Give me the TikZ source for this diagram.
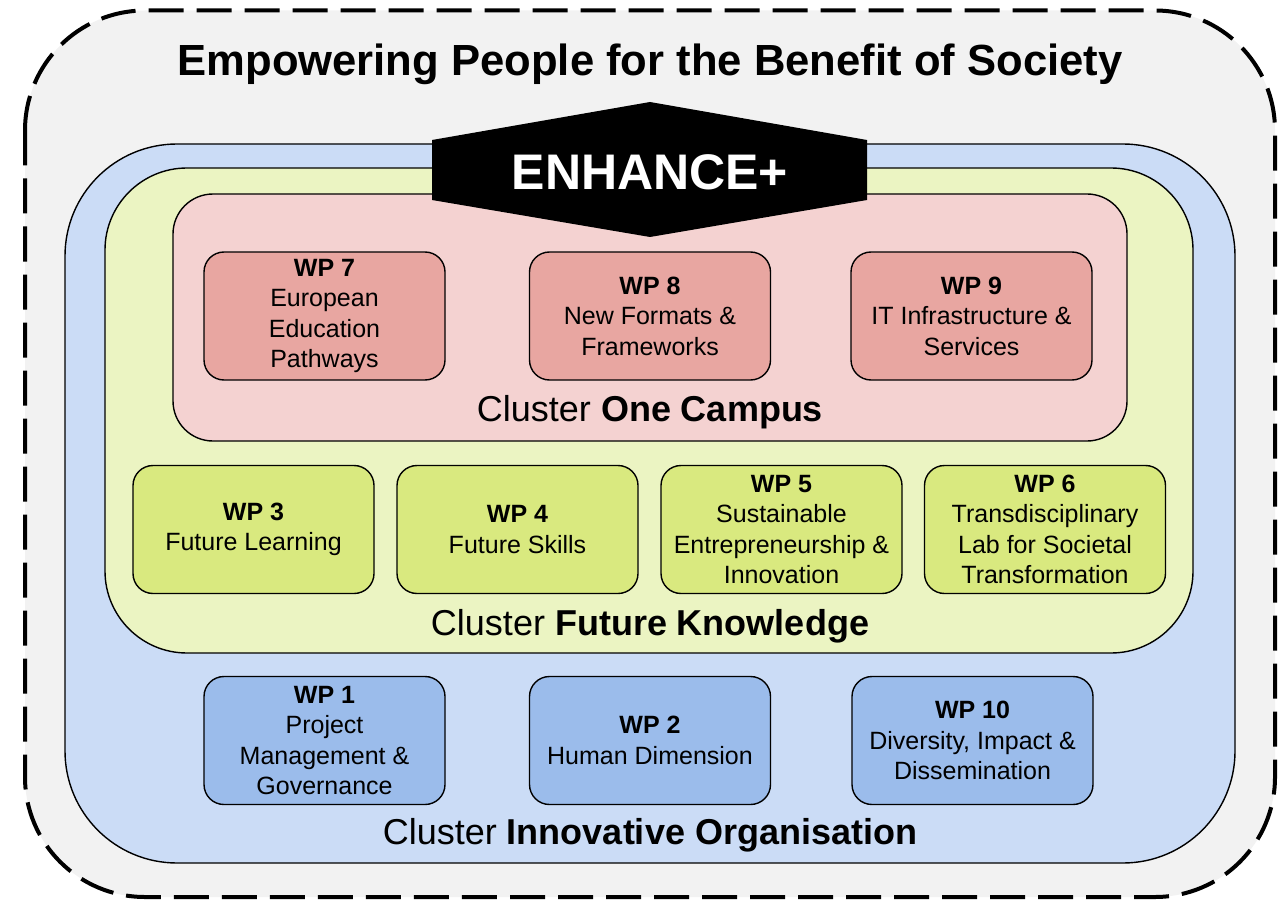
\documentclass[tikz,border=0pt]{standalone}
\usepackage{fontspec}
\setmainfont{Liberation Sans}
\definecolor{outerbg}{HTML}{F2F2F2}
\definecolor{bluebg}{HTML}{CBDCF6}
\definecolor{greenbg}{HTML}{EBF4C2}
\definecolor{pinkbg}{HTML}{F4D2D1}
\definecolor{pinkwp}{HTML}{E8A6A1}
\definecolor{greenwp}{HTML}{D9E97F}
\definecolor{bluewp}{HTML}{9BBCEB}
\tikzset{
  wpbox/.style={draw=black, line width=1.4pt, rounded corners=20pt, minimum width=241pt, minimum height=128pt, align=center, font=\fontsize{25}{30.5}\selectfont, inner sep=0pt},
  cluster/.style={draw=black, line width=1.4pt},
  clabel/.style={font=\fontsize{36}{40}\selectfont, inner sep=0pt}
}
\begin{document}
\begin{tikzpicture}[x=1pt,y=-1pt]
\useasboundingbox (0,0) rectangle (1281,901);
% outer
\path[fill=outerbg, draw=black, line width=4pt, dash pattern=on 35pt off 13pt, rounded corners=120pt] (25,10.5) rectangle (1275,897);
\node[inner sep=0pt, font=\fontsize{43.6}{48}\selectfont\bfseries] (title) at (650,64) {Empowering People for the Benefit of Society};
% clusters
\path[cluster, fill=bluebg, rounded corners=112pt] (65,144) rectangle (1235,863);
\path[cluster, fill=greenbg, rounded corners=82pt] (105,168) rectangle (1193,653);
\path[cluster, fill=pinkbg, rounded corners=40pt] (173,194) rectangle (1127,441);
% hexagon
\fill[black] (432,140) -- (650,102) -- (867,140) -- (867,200) -- (650,237) -- (432,200) -- cycle;
\node[inner sep=0pt, text=white, font=\fontsize{50}{55}\selectfont\bfseries] (enh) at (650,172) {ENHANCE+};
% One Campus
\node[wpbox, fill=pinkwp] (wp7) at (324.5,316) {\textbf{WP 7}\\European\\Education\\Pathways};
\node[wpbox, fill=pinkwp] (wp8) at (650,316) {\textbf{WP 8}\\New Formats \&\\Frameworks};
\node[wpbox, fill=pinkwp] (wp9) at (971.5,316) {\textbf{WP 9}\\IT Infrastructure \&\\Services};
\node[clabel] (c1) at (650,412) {Cluster \textbf{One Campus}};
% Future Knowledge
\node[wpbox, fill=greenwp] (wp3) at (253.5,529.5) {\textbf{WP 3}\\Future Learning};
\node[wpbox, fill=greenwp] (wp4) at (517.5,529.5) {\textbf{WP 4}\\Future Skills};
\node[wpbox, fill=greenwp] (wp5) at (781.5,529.5) {\textbf{WP 5}\\Sustainable\\Entrepreneurship \&\\Innovation};
\node[wpbox, fill=greenwp] (wp6) at (1045,529.5) {\textbf{WP 6}\\Transdisciplinary\\Lab for Societal\\Transformation};
\node[clabel] (c2) at (650,626) {Cluster \textbf{Future Knowledge}};
% Innovative Organisation
\node[wpbox, fill=bluewp] (wp1) at (324.5,740.5) {\textbf{WP 1}\\Project\\Management \&\\Governance};
\node[wpbox, fill=bluewp] (wp2) at (650,740.5) {\textbf{WP 2}\\Human Dimension};
\node[wpbox, fill=bluewp] (wp10) at (972.5,740.5) {\textbf{WP 10}\\Diversity, Impact \&\\Dissemination};
\node[clabel] (c3) at (650,835) {Cluster \textbf{Innovative Organisation}};
\end{tikzpicture}
\end{document}
